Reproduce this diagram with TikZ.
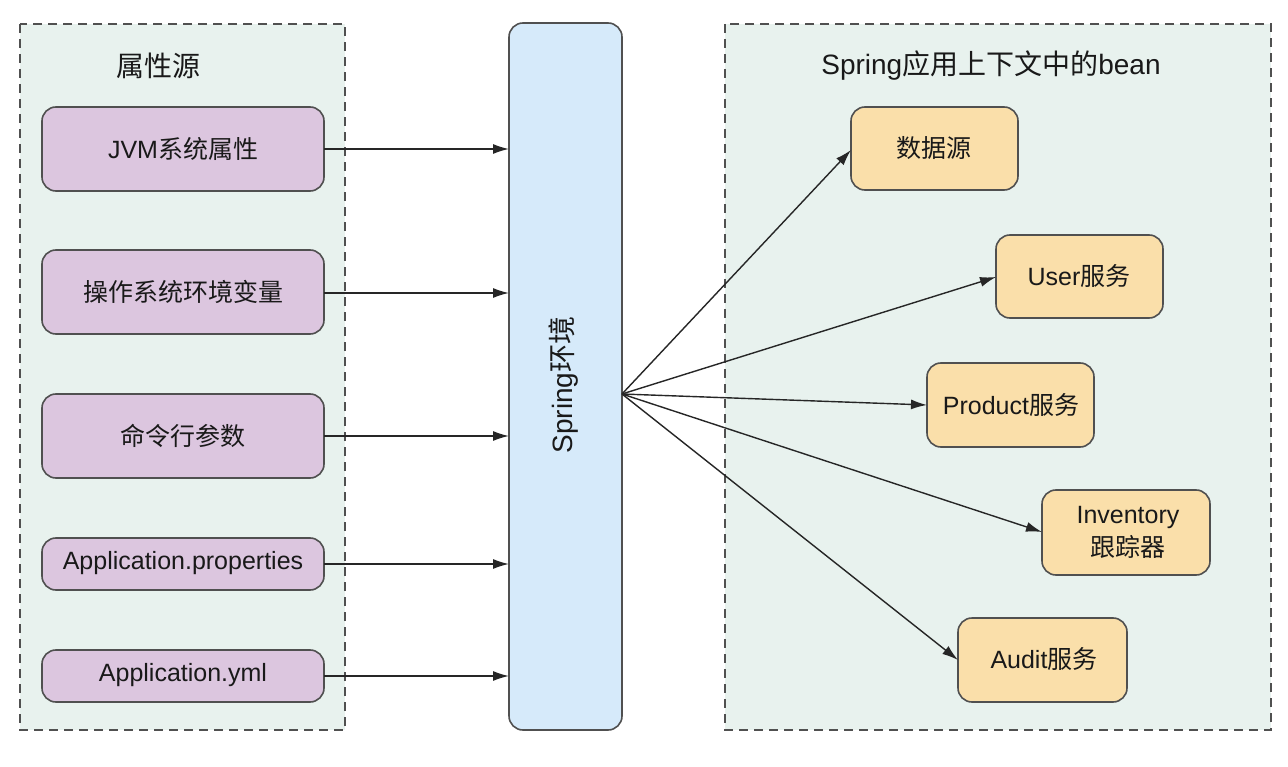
\documentclass[tikz,border=0pt]{standalone}
\usepackage{fontspec}
\setmainfont{Liberation Sans}
\newfontfamily\cjk{Noto Sans CJK SC}
\usetikzlibrary{arrows.meta}
\definecolor{groupbg}{HTML}{E8F2EE}
\definecolor{purplebox}{HTML}{DCC6DF}
\definecolor{bluebox}{HTML}{D6EAFA}
\definecolor{orangebox}{HTML}{FADFAA}
\definecolor{edge}{HTML}{505050}
\newcommand{\zh}[1]{{\cjk #1}}
\begin{document}
\begin{tikzpicture}[x=1pt,y=-1pt,
  groupbox/.style={draw=edge,fill=groupbg,line width=1.5pt,dash pattern=on 9pt off 6pt},
  srcbox/.style={draw=edge,fill=purplebox,line width=1.6pt,rounded corners=14pt},
  beanbox/.style={draw=edge,fill=orangebox,line width=1.6pt,rounded corners=14pt},
  envbox/.style={draw=edge,fill=bluebox,line width=1.6pt,rounded corners=14pt},
  lbl/.style={font=\fontsize{25}{30}\selectfont,align=center,text=black!90},
  ttl/.style={font=\fontsize{28}{33}\selectfont,text=black!90},
  conn/.style={draw=black!85,line width=1.4pt,-{Latex[length=16pt,width=10pt]}}
]
\useasboundingbox (0,0) rectangle (1288,767);
\fill[white] (0,0) rectangle (1288,767);
% groups
\draw[groupbox] (20,24) rectangle (345,730);
\draw[groupbox] (725,24) rectangle (1271,730);
\node[ttl] (t1) at (158,66) {\zh{属性源}};
\node[ttl] (t2) at (991,66) {Spring\zh{应用上下文中的}bean};
% sources
\draw[srcbox] (42,107) rectangle (324,191);
\node[lbl] (jvm) at (183,149) {JVM\zh{系统属性}};
\draw[srcbox] (42,250) rectangle (324,334);
\node[lbl] (os) at (183,292) {\zh{操作系统环境变量}};
\draw[srcbox] (42,394) rectangle (324,478);
\node[lbl] (cmd) at (183,436) {\zh{命令行参数}};
\draw[srcbox] (42,538) rectangle (324,590);
\node[lbl] (prop) at (183,563) {Application.properties};
\draw[srcbox] (42,650) rectangle (324,702);
\node[lbl] (yml) at (183,675) {Application.yml};
% env
\draw[envbox] (509,23) rectangle (622,730);
\node[lbl,rotate=90,font=\fontsize{28}{33}\selectfont] (env) at (564,385) {Spring\zh{环境}};
\coordinate (envr) at (622,394);
% beans
\draw[beanbox] (851,107) rectangle (1018,190);
\node[lbl] (ds) at (934,148) {\zh{数据源}};
\draw[beanbox] (996,235) rectangle (1163,318);
\node[lbl] (user) at (1079,276) {User\zh{服务}};
\draw[beanbox] (927,363) rectangle (1094,447);
\node[lbl] (prod) at (1011,405) {Product\zh{服务}};
\draw[beanbox] (1042,490) rectangle (1210,575);
\node[lbl,font=\fontsize{25}{33}\selectfont] (inv) at (1128,532) {Inventory\\\zh{跟踪器}};
\draw[beanbox] (958,618) rectangle (1127,702);
\node[lbl] (aud) at (1044,659) {Audit\zh{服务}};
% connectors from sources
\coordinate (s1) at (324,149); \coordinate (e1) at (509,149);
\coordinate (s2) at (324,293); \coordinate (e2) at (509,293);
\coordinate (s3) at (324,436); \coordinate (e3) at (509,436);
\coordinate (s4) at (324,564); \coordinate (e4) at (509,564);
\coordinate (s5) at (324,676); \coordinate (e5) at (509,676);
\draw[conn] (s1) -- (e1);
\draw[conn] (s2) -- (e2);
\draw[conn] (s3) -- (e3);
\draw[conn] (s4) -- (e4);
\draw[conn] (s5) -- (e5);
% fan out
\coordinate (b1) at (851,150);
\coordinate (b2) at (996,277);
\coordinate (b3) at (927,405);
\coordinate (b4) at (1042,532);
\coordinate (b5) at (958,660);
\draw[conn] (envr) -- (b1);
\draw[conn] (envr) -- (b2);
\draw[conn] (envr) -- (b3);
\draw[conn] (envr) -- (b4);
\draw[conn] (envr) -- (b5);
\end{tikzpicture}
\end{document}
